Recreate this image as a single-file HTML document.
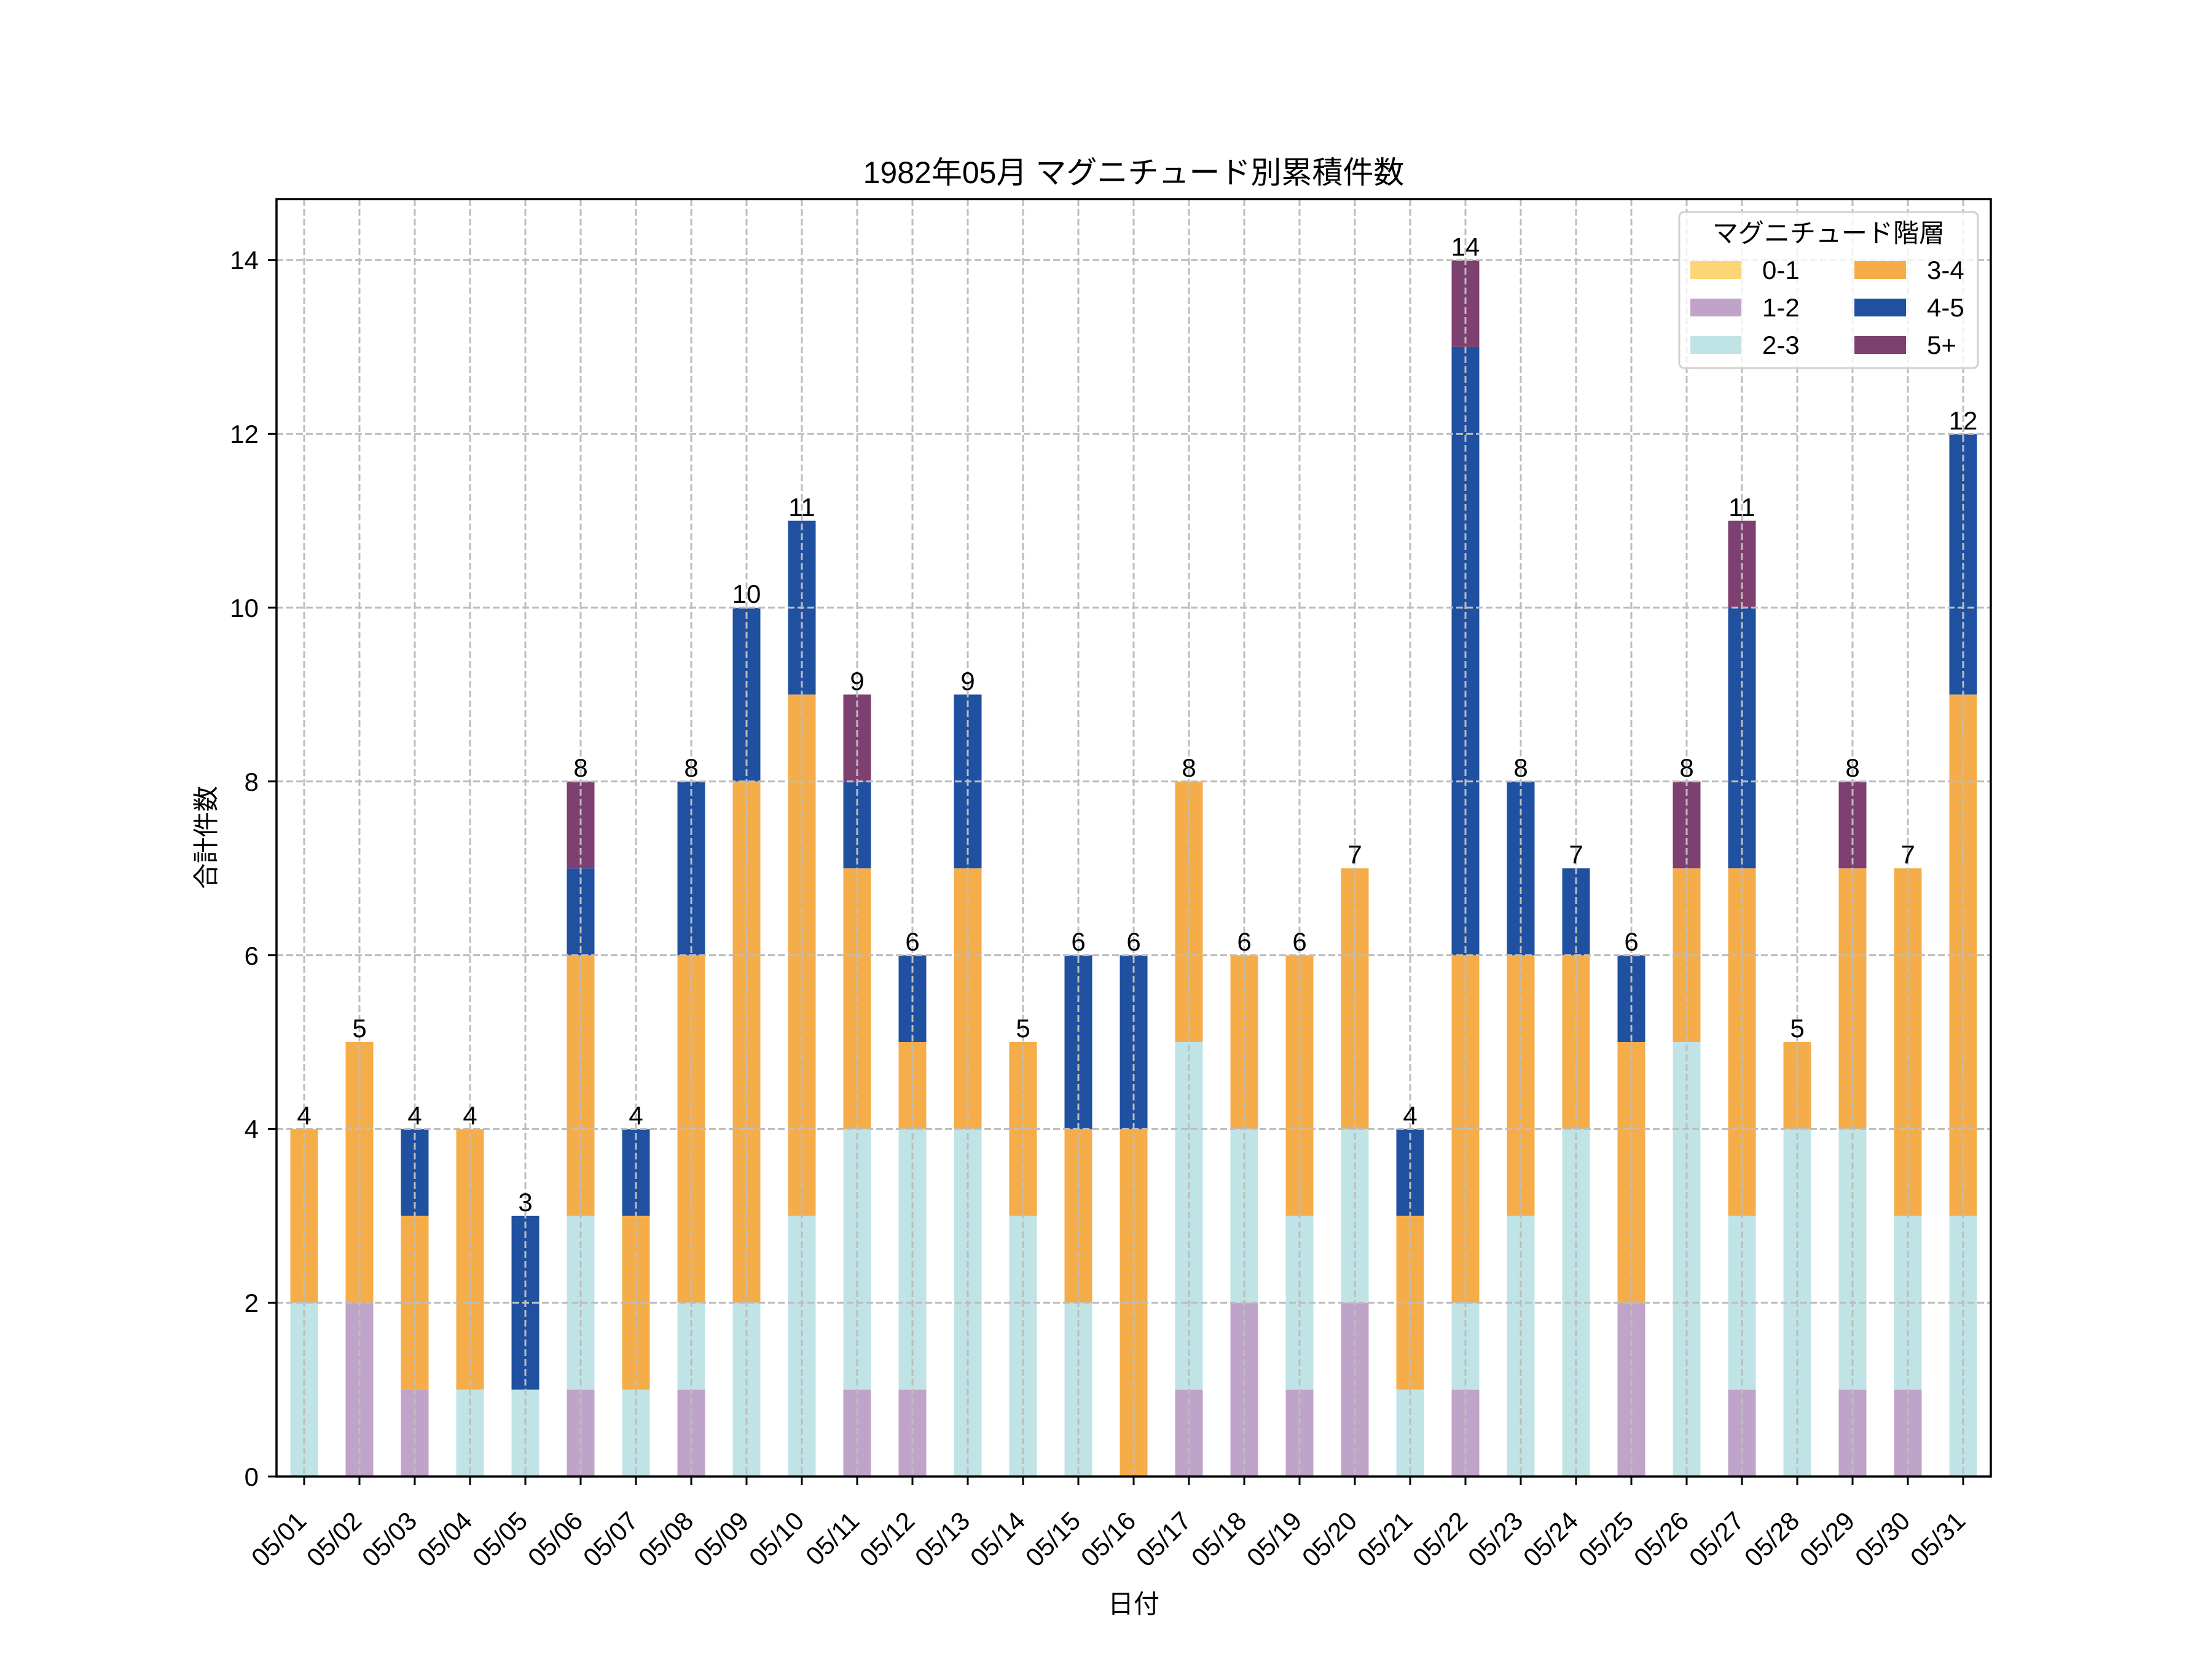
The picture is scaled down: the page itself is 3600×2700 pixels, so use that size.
<!DOCTYPE html>
<html><head><meta charset="utf-8"><style>body{margin:0;background:#fff}svg{display:block}text{font-family:"Liberation Sans","Noto Sans CJK JP",sans-serif;fill:#000}</style></head><body>
<svg width="3600" height="2700" viewBox="0 0 3600 2700" xmlns="http://www.w3.org/2000/svg">
<rect width="3600" height="2700" fill="#fff"/>
<g transform="translate(495,2403) scale(90,-141.4)">
<rect x="-0.25" y="0" width="0.5" height="2" fill="#c0e4e6"/><rect x="-0.25" y="2" width="0.5" height="2" fill="#f5ad4a"/>
<rect x="0.75" y="0" width="0.5" height="2" fill="#c0a3c8"/><rect x="0.75" y="2" width="0.5" height="3" fill="#f5ad4a"/>
<rect x="1.75" y="0" width="0.5" height="1" fill="#c0a3c8"/><rect x="1.75" y="1" width="0.5" height="2" fill="#f5ad4a"/><rect x="1.75" y="3" width="0.5" height="1" fill="#2050a0"/>
<rect x="2.75" y="0" width="0.5" height="1" fill="#c0e4e6"/><rect x="2.75" y="1" width="0.5" height="3" fill="#f5ad4a"/>
<rect x="3.75" y="0" width="0.5" height="1" fill="#c0e4e6"/><rect x="3.75" y="1" width="0.5" height="2" fill="#2050a0"/>
<rect x="4.75" y="0" width="0.5" height="1" fill="#c0a3c8"/><rect x="4.75" y="1" width="0.5" height="2" fill="#c0e4e6"/><rect x="4.75" y="3" width="0.5" height="3" fill="#f5ad4a"/><rect x="4.75" y="6" width="0.5" height="1" fill="#2050a0"/><rect x="4.75" y="7" width="0.5" height="1" fill="#7d4070"/>
<rect x="5.75" y="0" width="0.5" height="1" fill="#c0e4e6"/><rect x="5.75" y="1" width="0.5" height="2" fill="#f5ad4a"/><rect x="5.75" y="3" width="0.5" height="1" fill="#2050a0"/>
<rect x="6.75" y="0" width="0.5" height="1" fill="#c0a3c8"/><rect x="6.75" y="1" width="0.5" height="1" fill="#c0e4e6"/><rect x="6.75" y="2" width="0.5" height="4" fill="#f5ad4a"/><rect x="6.75" y="6" width="0.5" height="2" fill="#2050a0"/>
<rect x="7.75" y="0" width="0.5" height="2" fill="#c0e4e6"/><rect x="7.75" y="2" width="0.5" height="6" fill="#f5ad4a"/><rect x="7.75" y="8" width="0.5" height="2" fill="#2050a0"/>
<rect x="8.75" y="0" width="0.5" height="3" fill="#c0e4e6"/><rect x="8.75" y="3" width="0.5" height="6" fill="#f5ad4a"/><rect x="8.75" y="9" width="0.5" height="2" fill="#2050a0"/>
<rect x="9.75" y="0" width="0.5" height="1" fill="#c0a3c8"/><rect x="9.75" y="1" width="0.5" height="3" fill="#c0e4e6"/><rect x="9.75" y="4" width="0.5" height="3" fill="#f5ad4a"/><rect x="9.75" y="7" width="0.5" height="1" fill="#2050a0"/><rect x="9.75" y="8" width="0.5" height="1" fill="#7d4070"/>
<rect x="10.75" y="0" width="0.5" height="1" fill="#c0a3c8"/><rect x="10.75" y="1" width="0.5" height="3" fill="#c0e4e6"/><rect x="10.75" y="4" width="0.5" height="1" fill="#f5ad4a"/><rect x="10.75" y="5" width="0.5" height="1" fill="#2050a0"/>
<rect x="11.75" y="0" width="0.5" height="4" fill="#c0e4e6"/><rect x="11.75" y="4" width="0.5" height="3" fill="#f5ad4a"/><rect x="11.75" y="7" width="0.5" height="2" fill="#2050a0"/>
<rect x="12.75" y="0" width="0.5" height="3" fill="#c0e4e6"/><rect x="12.75" y="3" width="0.5" height="2" fill="#f5ad4a"/>
<rect x="13.75" y="0" width="0.5" height="2" fill="#c0e4e6"/><rect x="13.75" y="2" width="0.5" height="2" fill="#f5ad4a"/><rect x="13.75" y="4" width="0.5" height="2" fill="#2050a0"/>
<rect x="14.75" y="0" width="0.5" height="4" fill="#f5ad4a"/><rect x="14.75" y="4" width="0.5" height="2" fill="#2050a0"/>
<rect x="15.75" y="0" width="0.5" height="1" fill="#c0a3c8"/><rect x="15.75" y="1" width="0.5" height="4" fill="#c0e4e6"/><rect x="15.75" y="5" width="0.5" height="3" fill="#f5ad4a"/>
<rect x="16.75" y="0" width="0.5" height="2" fill="#c0a3c8"/><rect x="16.75" y="2" width="0.5" height="2" fill="#c0e4e6"/><rect x="16.75" y="4" width="0.5" height="2" fill="#f5ad4a"/>
<rect x="17.75" y="0" width="0.5" height="1" fill="#c0a3c8"/><rect x="17.75" y="1" width="0.5" height="2" fill="#c0e4e6"/><rect x="17.75" y="3" width="0.5" height="3" fill="#f5ad4a"/>
<rect x="18.75" y="0" width="0.5" height="2" fill="#c0a3c8"/><rect x="18.75" y="2" width="0.5" height="2" fill="#c0e4e6"/><rect x="18.75" y="4" width="0.5" height="3" fill="#f5ad4a"/>
<rect x="19.75" y="0" width="0.5" height="1" fill="#c0e4e6"/><rect x="19.75" y="1" width="0.5" height="2" fill="#f5ad4a"/><rect x="19.75" y="3" width="0.5" height="1" fill="#2050a0"/>
<rect x="20.75" y="0" width="0.5" height="1" fill="#c0a3c8"/><rect x="20.75" y="1" width="0.5" height="1" fill="#c0e4e6"/><rect x="20.75" y="2" width="0.5" height="4" fill="#f5ad4a"/><rect x="20.75" y="6" width="0.5" height="7" fill="#2050a0"/><rect x="20.75" y="13" width="0.5" height="1" fill="#7d4070"/>
<rect x="21.75" y="0" width="0.5" height="3" fill="#c0e4e6"/><rect x="21.75" y="3" width="0.5" height="3" fill="#f5ad4a"/><rect x="21.75" y="6" width="0.5" height="2" fill="#2050a0"/>
<rect x="22.75" y="0" width="0.5" height="4" fill="#c0e4e6"/><rect x="22.75" y="4" width="0.5" height="2" fill="#f5ad4a"/><rect x="22.75" y="6" width="0.5" height="1" fill="#2050a0"/>
<rect x="23.75" y="0" width="0.5" height="2" fill="#c0a3c8"/><rect x="23.75" y="2" width="0.5" height="3" fill="#f5ad4a"/><rect x="23.75" y="5" width="0.5" height="1" fill="#2050a0"/>
<rect x="24.75" y="0" width="0.5" height="5" fill="#c0e4e6"/><rect x="24.75" y="5" width="0.5" height="2" fill="#f5ad4a"/><rect x="24.75" y="7" width="0.5" height="1" fill="#7d4070"/>
<rect x="25.75" y="0" width="0.5" height="1" fill="#c0a3c8"/><rect x="25.75" y="1" width="0.5" height="2" fill="#c0e4e6"/><rect x="25.75" y="3" width="0.5" height="4" fill="#f5ad4a"/><rect x="25.75" y="7" width="0.5" height="3" fill="#2050a0"/><rect x="25.75" y="10" width="0.5" height="1" fill="#7d4070"/>
<rect x="26.75" y="0" width="0.5" height="4" fill="#c0e4e6"/><rect x="26.75" y="4" width="0.5" height="1" fill="#f5ad4a"/>
<rect x="27.75" y="0" width="0.5" height="1" fill="#c0a3c8"/><rect x="27.75" y="1" width="0.5" height="3" fill="#c0e4e6"/><rect x="27.75" y="4" width="0.5" height="3" fill="#f5ad4a"/><rect x="27.75" y="7" width="0.5" height="1" fill="#7d4070"/>
<rect x="28.75" y="0" width="0.5" height="1" fill="#c0a3c8"/><rect x="28.75" y="1" width="0.5" height="2" fill="#c0e4e6"/><rect x="28.75" y="3" width="0.5" height="4" fill="#f5ad4a"/>
<rect x="29.75" y="0" width="0.5" height="3" fill="#c0e4e6"/><rect x="29.75" y="3" width="0.5" height="6" fill="#f5ad4a"/><rect x="29.75" y="9" width="0.5" height="3" fill="#2050a0"/>
</g>
<g stroke="#bdbdbd" stroke-width="3" stroke-dasharray="11,5" fill="none">
<path d="M450 2120.2H3240M450 1837.4H3240M450 1554.6H3240M450 1271.8H3240M450 989H3240M450 706.2H3240M450 423.4H3240"/>
<path d="M495 324V2403M585 324V2403M675 324V2403M765 324V2403M855 324V2403M945 324V2403M1035 324V2403M1125 324V2403M1215 324V2403M1305 324V2403M1395 324V2403M1485 324V2403M1575 324V2403M1665 324V2403M1755 324V2403M1845 324V2403M1935 324V2403M2025 324V2403M2115 324V2403M2205 324V2403M2295 324V2403M2385 324V2403M2475 324V2403M2565 324V2403M2655 324V2403M2745 324V2403M2835 324V2403M2925 324V2403M3015 324V2403M3105 324V2403M3195 324V2403"/>
</g>
<rect x="450" y="324" width="2790" height="2079" fill="none" stroke="#000" stroke-width="3.5"/>
<g stroke="#000" stroke-width="3">
<path d="M450 2403h-14M450 2120.2h-14M450 1837.4h-14M450 1554.6h-14M450 1271.8h-14M450 989h-14M450 706.2h-14M450 423.4h-14"/>
<path d="M495 2403v14M585 2403v14M675 2403v14M765 2403v14M855 2403v14M945 2403v14M1035 2403v14M1125 2403v14M1215 2403v14M1305 2403v14M1395 2403v14M1485 2403v14M1575 2403v14M1665 2403v14M1755 2403v14M1845 2403v14M1935 2403v14M2025 2403v14M2115 2403v14M2205 2403v14M2295 2403v14M2385 2403v14M2475 2403v14M2565 2403v14M2655 2403v14M2745 2403v14M2835 2403v14M2925 2403v14M3015 2403v14M3105 2403v14M3195 2403v14"/>
</g>
<g font-size="42" text-anchor="end">
<text x="421" y="2418">0</text><text x="421" y="2135">2</text><text x="421" y="1852">4</text><text x="421" y="1570">6</text><text x="421" y="1287">8</text><text x="421" y="1004">10</text><text x="421" y="721">12</text><text x="421" y="438">14</text>
</g>
<g font-size="42" text-anchor="end">
<text transform="translate(501,2478) rotate(-45)">05/01</text>
<text transform="translate(591,2478) rotate(-45)">05/02</text>
<text transform="translate(681,2478) rotate(-45)">05/03</text>
<text transform="translate(771,2478) rotate(-45)">05/04</text>
<text transform="translate(861,2478) rotate(-45)">05/05</text>
<text transform="translate(951,2478) rotate(-45)">05/06</text>
<text transform="translate(1041,2478) rotate(-45)">05/07</text>
<text transform="translate(1131,2478) rotate(-45)">05/08</text>
<text transform="translate(1221,2478) rotate(-45)">05/09</text>
<text transform="translate(1311,2478) rotate(-45)">05/10</text>
<text transform="translate(1401,2478) rotate(-45)">05/11</text>
<text transform="translate(1491,2478) rotate(-45)">05/12</text>
<text transform="translate(1581,2478) rotate(-45)">05/13</text>
<text transform="translate(1671,2478) rotate(-45)">05/14</text>
<text transform="translate(1761,2478) rotate(-45)">05/15</text>
<text transform="translate(1851,2478) rotate(-45)">05/16</text>
<text transform="translate(1941,2478) rotate(-45)">05/17</text>
<text transform="translate(2031,2478) rotate(-45)">05/18</text>
<text transform="translate(2121,2478) rotate(-45)">05/19</text>
<text transform="translate(2211,2478) rotate(-45)">05/20</text>
<text transform="translate(2301,2478) rotate(-45)">05/21</text>
<text transform="translate(2391,2478) rotate(-45)">05/22</text>
<text transform="translate(2481,2478) rotate(-45)">05/23</text>
<text transform="translate(2571,2478) rotate(-45)">05/24</text>
<text transform="translate(2661,2478) rotate(-45)">05/25</text>
<text transform="translate(2751,2478) rotate(-45)">05/26</text>
<text transform="translate(2841,2478) rotate(-45)">05/27</text>
<text transform="translate(2931,2478) rotate(-45)">05/28</text>
<text transform="translate(3021,2478) rotate(-45)">05/29</text>
<text transform="translate(3111,2478) rotate(-45)">05/30</text>
<text transform="translate(3201,2478) rotate(-45)">05/31</text>
</g>
<g font-size="42" text-anchor="middle">
<text x="495" y="1830">4</text><text x="585" y="1688">5</text><text x="675" y="1830">4</text><text x="765" y="1830">4</text><text x="855" y="1971">3</text><text x="945" y="1264">8</text><text x="1035" y="1830">4</text><text x="1125" y="1264">8</text><text x="1215" y="981">10</text><text x="1305" y="840">11</text><text x="1395" y="1123">9</text><text x="1485" y="1547">6</text><text x="1575" y="1123">9</text><text x="1665" y="1688">5</text><text x="1755" y="1547">6</text><text x="1845" y="1547">6</text><text x="1935" y="1264">8</text><text x="2025" y="1547">6</text><text x="2115" y="1547">6</text><text x="2205" y="1405">7</text><text x="2295" y="1830">4</text><text x="2385" y="416">14</text><text x="2475" y="1264">8</text><text x="2565" y="1405">7</text><text x="2655" y="1547">6</text><text x="2745" y="1264">8</text><text x="2835" y="840">11</text><text x="2925" y="1688">5</text><text x="3015" y="1264">8</text><text x="3105" y="1405">7</text><text x="3195" y="699">12</text>
</g>
<rect x="2733" y="345" width="486" height="254" rx="8" fill="#fff" fill-opacity="0.8" stroke="#d0d0d0" stroke-width="3"/>
<text x="2976" y="394" font-size="42" text-anchor="middle">マグニチュード階層</text>
<rect x="2751" y="425" width="83" height="29" fill="#fcd577"/>
<rect x="2751" y="486" width="83" height="29" fill="#c0a3c8"/>
<rect x="2751" y="547" width="83" height="29" fill="#c0e4e6"/>
<rect x="3018" y="425" width="84" height="29" fill="#f5ad4a"/>
<rect x="3018" y="486" width="84" height="29" fill="#2050a0"/>
<rect x="3018" y="547" width="84" height="29" fill="#7d4070"/>
<g font-size="42">
<text x="2868" y="454">0-1</text><text x="2868" y="515">1-2</text><text x="2868" y="576">2-3</text>
<text x="3136" y="454">3-4</text><text x="3136" y="515">4-5</text><text x="3136" y="576">5+</text>
</g>
<text x="1845" y="298" font-size="50" text-anchor="middle">1982年05月 マグニチュード別累積件数</text>
<text x="1845" y="2625" font-size="42" text-anchor="middle">日付</text>
<text transform="translate(350,1363) rotate(-90)" font-size="42" text-anchor="middle">合計件数</text>
</svg>
</body></html>
